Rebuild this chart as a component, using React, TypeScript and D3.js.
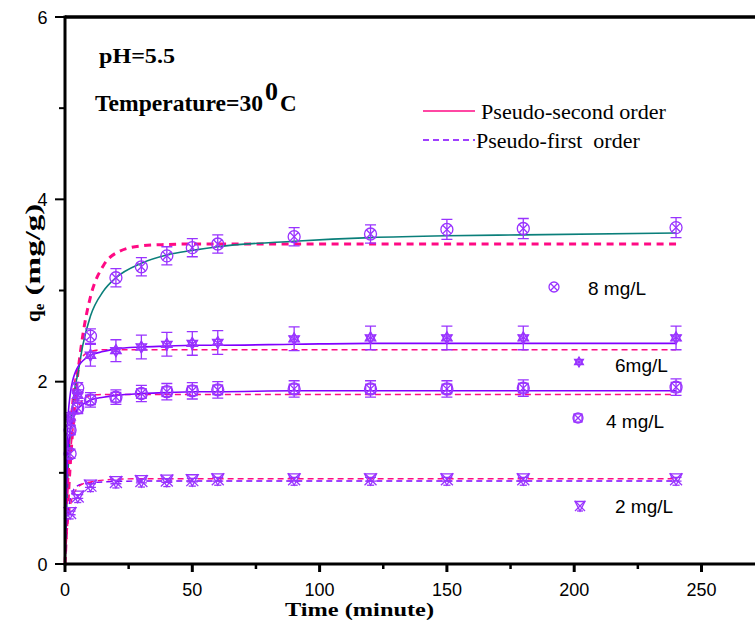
import React from 'react';
import * as d3 from 'd3';

const W = 755, H = 627;

// measured data
const times = [2, 5, 10, 20, 30, 40, 50, 60, 90, 120, 150, 180, 240];
const q8 = [1.21, 1.93, 2.50, 3.14, 3.26, 3.38, 3.47, 3.51, 3.59, 3.62, 3.67, 3.68, 3.69];
const e8 = [0.05, 0.06, 0.08, 0.1, 0.1, 0.1, 0.1, 0.1, 0.1, 0.1, 0.11, 0.11, 0.11];
const q6 = [1.61, 1.85, 2.29, 2.34, 2.38, 2.41, 2.42, 2.43, 2.47, 2.48, 2.48, 2.48, 2.48];
const e6 = [0.05, 0.06, 0.12, 0.12, 0.13, 0.13, 0.13, 0.13, 0.13, 0.13, 0.13, 0.13, 0.13];
const q4 = [1.47, 1.71, 1.80, 1.83, 1.87, 1.89, 1.90, 1.91, 1.92, 1.92, 1.92, 1.93, 1.94];
const e4 = [0.05, 0.06, 0.08, 0.08, 0.09, 0.09, 0.09, 0.09, 0.09, 0.09, 0.09, 0.09, 0.09];
const q2 = [0.56, 0.74, 0.86, 0.90, 0.91, 0.915, 0.92, 0.93, 0.93, 0.93, 0.93, 0.93, 0.93];
const e2 = [0.02, 0.02, 0.02, 0.02, 0.02, 0.02, 0.02, 0.02, 0.02, 0.02, 0.02, 0.02, 0.02];

// fitted curves
const fitTimes = [0, 1, 2, 3, 4, 5, 7, 10, 15, 20, 30, 40, 50, 60, 90, 120, 150, 180, 240];
const pso8 = [0, 0.9, 1.42, 1.74, 1.95, 2.08, 2.40, 2.72, 2.99, 3.14, 3.30, 3.39, 3.44, 3.48, 3.54, 3.58, 3.60, 3.61, 3.63];
const pfo8 = [0, 0.58, 1.06, 1.46, 1.80, 2.08, 2.51, 2.93, 3.27, 3.41, 3.49, 3.505, 3.51, 3.51, 3.51, 3.51, 3.51, 3.51, 3.51];
const pso6 = [0, 1.50, 1.85, 2.01, 2.10, 2.16, 2.23, 2.29, 2.33, 2.36, 2.38, 2.39, 2.40, 2.40, 2.41, 2.42, 2.42, 2.42, 2.42];
const pfo6 = [0, 0.92, 1.48, 1.83, 2.03, 2.16, 2.28, 2.33, 2.35, 2.35, 2.35, 2.35, 2.35, 2.35, 2.35, 2.35, 2.35, 2.35, 2.35];
const pso4 = [0, 1.17, 1.46, 1.58, 1.65, 1.70, 1.75, 1.80, 1.83, 1.85, 1.87, 1.88, 1.89, 1.89, 1.90, 1.90, 1.90, 1.90, 1.90];
const pfo4 = [0, 0.73, 1.17, 1.45, 1.61, 1.71, 1.80, 1.85, 1.86, 1.86, 1.86, 1.86, 1.86, 1.86, 1.86, 1.86, 1.86, 1.86, 1.86];
const fitA2 = [0, 0.40, 0.62, 0.74, 0.80, 0.84, 0.88, 0.90, 0.92, 0.93, 0.935, 0.935, 0.935, 0.935, 0.935, 0.935, 0.935, 0.935, 0.935];
const fitB2 = [0, 0.50, 0.70, 0.79, 0.84, 0.86, 0.88, 0.89, 0.90, 0.905, 0.91, 0.91, 0.91, 0.91, 0.91, 0.91, 0.91, 0.91, 0.91];

const xTicks = [0, 50, 100, 150, 200, 250];
const xMinor = [25, 75, 125, 175, 225];
const yTicks = [0, 2, 4, 6];
const yMinor = [1, 3, 5];

const seriesLabels = ['8 mg/L', '6mg/L', '4 mg/L', '2 mg/L'];

const PURPLE = '#9933ff';
const LINEP = '#8000ff';
const PINK = '#ff0a84';
const TEAL = '#0a7f7a';

const x = d3.scaleLinear().domain([0, 275]).range([65, 65 + 275 * 2.546]);
const y = d3.scaleLinear().domain([0, 6]).range([564, 17]);

type MType = 'cx' | 'star' | 'boxc' | 'hour';

function Marker({ cx, cy, type, s = 6 }: { cx: number; cy: number; type: MType; s?: number }) {
  const st = { fill: 'none', stroke: PURPLE, strokeWidth: 1.3 };
  const d = s * 0.7;
  if (type === 'cx') {
    return (
      <g {...st}>
        <circle cx={cx} cy={cy} r={s} />
        <path d={`M${cx - d},${cy - d}L${cx + d},${cy + d}M${cx - d},${cy + d}L${cx + d},${cy - d}`} />
      </g>
    );
  }
  if (type === 'star') {
    const pts: string[] = [];
    for (let i = 0; i < 3; i++) {
      const a = (Math.PI / 3) * i + Math.PI / 2;
      pts.push(`M${cx + s * Math.cos(a)},${cy + s * Math.sin(a)}L${cx - s * Math.cos(a)},${cy - s * Math.sin(a)}`);
    }
    const tri = (sg: number) =>
      `M${cx},${cy - sg * s}L${cx + s * 0.87},${cy + sg * s * 0.5}L${cx - s * 0.87},${cy + sg * s * 0.5}Z`;
    return (
      <g {...st}>
        <path d={pts.join('')} />
        <path d={tri(1)} />
        <path d={tri(-1)} />
      </g>
    );
  }
  if (type === 'boxc') {
    return (
      <g {...st}>
        <rect x={cx - s * 0.8} y={cy - s * 0.8} width={s * 1.6} height={s * 1.6} />
        <circle cx={cx} cy={cy} r={s} />
        <path d={`M${cx - s * 0.8},${cy - s * 0.8}L${cx + s * 0.8},${cy + s * 0.8}M${cx - s * 0.8},${cy + s * 0.8}L${cx + s * 0.8},${cy - s * 0.8}`} />
      </g>
    );
  }
  return (
    <g {...st}>
      <path d={`M${cx - s},${cy - s}L${cx + s},${cy + s}M${cx - s},${cy + s}L${cx + s},${cy - s}`} />
      <path d={`M${cx - s},${cy - s * 0.9}L${cx + s},${cy - s * 0.9}L${cx},${cy + s}Z`} />
      <path d={`M${cx - s * 0.6},${cy + s}L${cx + s * 0.6},${cy + s}`} />
    </g>
  );
}

function Series({ q, e, type }: { q: number[]; e: number[]; type: MType }) {
  return (
    <g>
      {times.map((t, i) => {
        const cx = x(t), cy = y(q[i]);
        const y1 = y(q[i] + e[i]), y2 = y(q[i] - e[i]);
        return (
          <g key={i}>
            <path
              d={`M${cx},${y1}L${cx},${y2}M${cx - 5.5},${y1}L${cx + 5.5},${y1}M${cx - 5.5},${y2}L${cx + 5.5},${y2}`}
              stroke={PURPLE}
              strokeWidth={1.3}
              fill="none"
            />
            <Marker cx={cx} cy={cy} type={type} />
          </g>
        );
      })}
    </g>
  );
}

const line = (vals: number[]) =>
  d3
    .line<number>()
    .x((_, i) => x(fitTimes[i]))
    .y((v) => y(v))
    .curve(d3.curveMonotoneX)(vals) as string;

export default function App() {
  const serif = '"Liberation Serif", "Times New Roman", serif';
  const sans = '"Liberation Sans", Arial, sans-serif';
  return (
    <svg width={W} height={H} style={{ position: 'absolute', left: 0, top: 0, background: '#fff' }}>
      <rect width={W} height={H} fill="#fff" />
      {/* fitted curves */}
      <path d={line(pfo8)} fill="none" stroke={PINK} strokeWidth={3} strokeDasharray="7,5.5" />
      <path d={line(pso8)} fill="none" stroke={TEAL} strokeWidth={1.6} />
      <path d={line(pfo6)} fill="none" stroke={PINK} strokeWidth={1.6} strokeDasharray="6,4" />
      <path d={line(pso6)} fill="none" stroke={LINEP} strokeWidth={1.6} />
      <path d={line(pfo4)} fill="none" stroke={PINK} strokeWidth={1.6} strokeDasharray="6,4" />
      <path d={line(pso4)} fill="none" stroke={LINEP} strokeWidth={1.6} />
      <path d={line(fitB2)} fill="none" stroke={LINEP} strokeWidth={1.4} strokeDasharray="6,4" />
      <path d={line(fitA2)} fill="none" stroke={PINK} strokeWidth={1.4} strokeDasharray="6,4" />

      {/* data */}
      <Series q={q8} e={e8} type="cx" />
      <Series q={q6} e={e6} type="star" />
      <Series q={q4} e={e4} type="boxc" />
      <Series q={q2} e={e2} type="hour" />

      {/* axes frame */}
      <line x1={x(0)} x2={W + 5} y1={y(0)} y2={y(0)} stroke="#000" strokeWidth={3} />
      <line x1={x(0)} x2={W + 5} y1={y(6)} y2={y(6)} stroke="#000" strokeWidth={3.5} />
      <line x1={x(0)} x2={x(0)} y1={y(0) + 1.5} y2={y(6) - 1.5} stroke="#000" strokeWidth={3} />
      {xTicks.map((t) => (
        <g key={'xt' + t}>
          <line x1={x(t)} x2={x(t)} y1={y(0)} y2={y(0) + 8} stroke="#000" strokeWidth={3} />
          <text x={x(t)} y={596} textAnchor="middle" fontFamily={sans} fontSize={18}>
            {t}
          </text>
        </g>
      ))}
      {xMinor.map((t) => (
        <line key={'xm' + t} x1={x(t)} x2={x(t)} y1={y(0)} y2={y(0) + 5} stroke="#000" strokeWidth={2.5} />
      ))}
      {yTicks.map((t) => (
        <g key={'yt' + t}>
          <line x1={x(0) - 10} x2={x(0)} y1={y(t)} y2={y(t)} stroke="#000" strokeWidth={2} />
          <text x={47.5} y={y(t) + 6.5} textAnchor="end" fontFamily={sans} fontSize={18}>
            {t}
          </text>
        </g>
      ))}
      {yMinor.map((t) => (
        <line key={'ym' + t} x1={x(0) - 6} x2={x(0)} y1={y(t)} y2={y(t)} stroke="#000" strokeWidth={2} />
      ))}

      {/* axis titles */}
      <text x={285} y={616} fontFamily={serif} fontWeight="bold" fontSize={19} textLength={149} lengthAdjust="spacingAndGlyphs">
        Time (minute)
      </text>
      <text transform="translate(40,322) rotate(-90)" fontFamily={serif} fontWeight="bold" fontSize={21}>
        <tspan>q</tspan>
        <tspan fontSize={15} dy={4}>e</tspan>
        <tspan dy={-4} textLength={100} lengthAdjust="spacingAndGlyphs"> (mg/g)</tspan>
      </text>

      {/* annotations */}
      <text x={99} y={63} fontFamily={serif} fontWeight="bold" fontSize={22} textLength={76} lengthAdjust="spacingAndGlyphs">
        pH=5.5
      </text>
      <text x={95} y={111} fontFamily={serif} fontWeight="bold" fontSize={23} textLength={168} lengthAdjust="spacingAndGlyphs">
        Temperature=30
      </text>
      <text x={265} y={100} fontFamily={serif} fontWeight="bold" fontSize={26}>
        0
      </text>
      <text x={280} y={111} fontFamily={serif} fontWeight="bold" fontSize={23}>
        C
      </text>

      {/* legend */}
      <line x1={423} x2={475} y1={111} y2={111} stroke={PINK} strokeWidth={1.6} />
      <text x={481} y={119} fontFamily={serif} fontSize={22} textLength={185} lengthAdjust="spacingAndGlyphs">
        Pseudo-second order
      </text>
      <line x1={423} x2={475} y1={140} y2={140} stroke={LINEP} strokeWidth={1.6} strokeDasharray="6,4" />
      <text x={476} y={148} fontFamily={serif} fontSize={22} style={{ whiteSpace: 'pre' }}>
        {'Pseudo-first  order'}
      </text>

      {/* series labels */}
      <Marker cx={554} cy={287} type="cx" s={5} />
      <text x={588} y={295} fontFamily={sans} fontSize={19}>{seriesLabels[0]}</text>
      <Marker cx={579} cy={362} type="star" s={5} />
      <text x={615} y={372} fontFamily={sans} fontSize={19}>{seriesLabels[1]}</text>
      <Marker cx={578} cy={418} type="boxc" s={5} />
      <text x={606} y={428} fontFamily={sans} fontSize={19}>{seriesLabels[2]}</text>
      <Marker cx={580} cy={506} type="hour" s={5} />
      <text x={615} y={513} fontFamily={sans} fontSize={19}>{seriesLabels[3]}</text>
    </svg>
  );
}
